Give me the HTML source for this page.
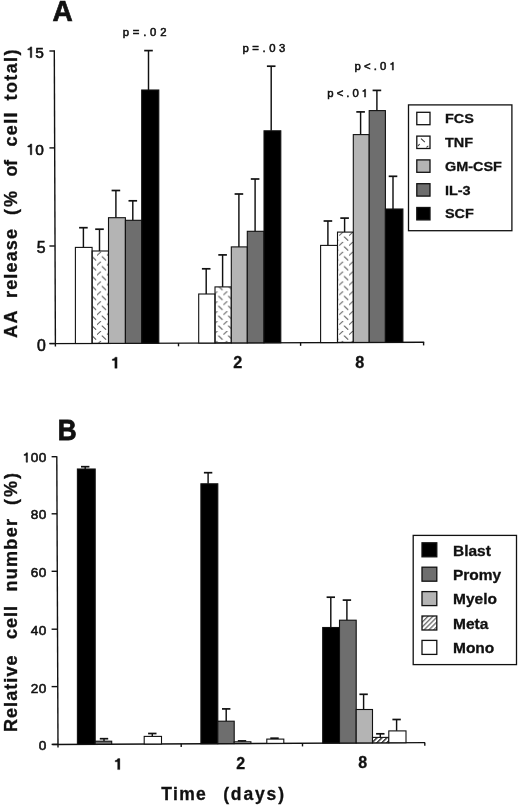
<!DOCTYPE html>
<html><head><meta charset="utf-8"><style>
html,body{margin:0;padding:0;background:#fff;}
body{width:520px;height:806px;overflow:hidden;}
svg{display:block;filter:grayscale(1);}
text{font-family:"Liberation Sans", sans-serif;fill:#111;}
</style></head><body>
<svg width="520" height="806" viewBox="0 0 520 806">
<defs>
<pattern id="tnf0" patternUnits="userSpaceOnUse" width="9.9" height="9.9" x="97.0" y="4.3">
<path d="M0.2,3.4 L3.7,0.2 M5.1,4.9 L8.7,8.3" stroke="#505050" stroke-width="1.0" fill="none" stroke-linecap="round"/>
</pattern>
<pattern id="tnf1" patternUnits="userSpaceOnUse" width="9.9" height="9.9" x="223.4" y="4.3">
<path d="M0.2,3.4 L3.7,0.2 M5.1,4.9 L8.7,8.3" stroke="#505050" stroke-width="1.0" fill="none" stroke-linecap="round"/>
</pattern>
<pattern id="tnf2" patternUnits="userSpaceOnUse" width="9.9" height="9.9" x="339.2" y="4.3">
<path d="M0.2,3.4 L3.7,0.2 M5.1,4.9 L8.7,8.3" stroke="#505050" stroke-width="1.0" fill="none" stroke-linecap="round"/>
</pattern>
<pattern id="meta" patternUnits="userSpaceOnUse" width="3.5" height="3.5" patternTransform="rotate(45)">
<rect x="0" y="0" width="3.5" height="3.5" fill="#fff"/><line x1="0.7" y1="0" x2="0.7" y2="3.5" stroke="#222" stroke-width="1.4"/>
</pattern>
<pattern id="metas" patternUnits="userSpaceOnUse" width="3.4" height="3.4" patternTransform="rotate(45)">
<rect x="0" y="0" width="3.4" height="3.4" fill="#fff"/><line x1="0.7" y1="0" x2="0.7" y2="3.4" stroke="#444" stroke-width="1.05"/>
</pattern>
</defs>
<line x1="54.30" y1="50.40" x2="55.40" y2="346.40" stroke="#111" stroke-width="1.4"/>
<line x1="49.40" y1="51.00" x2="54.80" y2="51.00" stroke="#111" stroke-width="1.4"/>
<line x1="49.40" y1="147.90" x2="54.80" y2="147.90" stroke="#111" stroke-width="1.4"/>
<line x1="49.40" y1="246.00" x2="54.80" y2="246.00" stroke="#111" stroke-width="1.4"/>
<line x1="49.40" y1="343.50" x2="54.80" y2="343.50" stroke="#111" stroke-width="1.4"/>
<line x1="49.60" y1="343.60" x2="424.20" y2="342.20" stroke="#111" stroke-width="1.4"/>
<line x1="178.50" y1="343.12" x2="178.50" y2="346.32" stroke="#111" stroke-width="1.4"/>
<line x1="300.60" y1="342.66" x2="300.60" y2="345.86" stroke="#111" stroke-width="1.4"/>
<line x1="423.60" y1="342.20" x2="423.60" y2="345.40" stroke="#111" stroke-width="1.4"/>
<line x1="83.40" y1="247.40" x2="83.40" y2="227.70" stroke="#111" stroke-width="1.45"/>
<line x1="79.10" y1="227.70" x2="87.70" y2="227.70" stroke="#111" stroke-width="1.7"/>
<line x1="99.50" y1="251.00" x2="99.50" y2="229.20" stroke="#111" stroke-width="1.45"/>
<line x1="95.20" y1="229.20" x2="103.80" y2="229.20" stroke="#111" stroke-width="1.7"/>
<line x1="115.90" y1="217.70" x2="115.90" y2="190.50" stroke="#111" stroke-width="1.45"/>
<line x1="111.60" y1="190.50" x2="120.20" y2="190.50" stroke="#111" stroke-width="1.7"/>
<line x1="132.80" y1="220.30" x2="132.80" y2="200.80" stroke="#111" stroke-width="1.45"/>
<line x1="128.50" y1="200.80" x2="137.10" y2="200.80" stroke="#111" stroke-width="1.7"/>
<line x1="148.50" y1="90.00" x2="148.50" y2="50.60" stroke="#111" stroke-width="1.45"/>
<line x1="144.20" y1="50.60" x2="152.80" y2="50.60" stroke="#111" stroke-width="1.7"/>
<line x1="206.20" y1="294.00" x2="206.20" y2="268.80" stroke="#111" stroke-width="1.45"/>
<line x1="201.90" y1="268.80" x2="210.50" y2="268.80" stroke="#111" stroke-width="1.7"/>
<line x1="222.60" y1="286.90" x2="222.60" y2="254.90" stroke="#111" stroke-width="1.45"/>
<line x1="218.30" y1="254.90" x2="226.90" y2="254.90" stroke="#111" stroke-width="1.7"/>
<line x1="238.90" y1="246.90" x2="238.90" y2="194.00" stroke="#111" stroke-width="1.45"/>
<line x1="234.60" y1="194.00" x2="243.20" y2="194.00" stroke="#111" stroke-width="1.7"/>
<line x1="255.10" y1="231.30" x2="255.10" y2="179.00" stroke="#111" stroke-width="1.45"/>
<line x1="250.80" y1="179.00" x2="259.40" y2="179.00" stroke="#111" stroke-width="1.7"/>
<line x1="271.20" y1="130.80" x2="271.20" y2="66.20" stroke="#111" stroke-width="1.45"/>
<line x1="266.90" y1="66.20" x2="275.50" y2="66.20" stroke="#111" stroke-width="1.7"/>
<line x1="327.90" y1="245.40" x2="327.90" y2="221.00" stroke="#111" stroke-width="1.45"/>
<line x1="323.60" y1="221.00" x2="332.20" y2="221.00" stroke="#111" stroke-width="1.7"/>
<line x1="344.60" y1="232.10" x2="344.60" y2="218.10" stroke="#111" stroke-width="1.45"/>
<line x1="340.30" y1="218.10" x2="348.90" y2="218.10" stroke="#111" stroke-width="1.7"/>
<line x1="360.60" y1="134.60" x2="360.60" y2="111.90" stroke="#111" stroke-width="1.45"/>
<line x1="356.30" y1="111.90" x2="364.90" y2="111.90" stroke="#111" stroke-width="1.7"/>
<line x1="376.90" y1="110.60" x2="376.90" y2="90.40" stroke="#111" stroke-width="1.45"/>
<line x1="372.60" y1="90.40" x2="381.20" y2="90.40" stroke="#111" stroke-width="1.7"/>
<line x1="393.00" y1="209.00" x2="393.00" y2="176.30" stroke="#111" stroke-width="1.45"/>
<line x1="388.70" y1="176.30" x2="397.30" y2="176.30" stroke="#111" stroke-width="1.7"/>
<rect x="75.40" y="247.40" width="16.70" height="96.07" fill="#ffffff" stroke="#111" stroke-width="1.1"/>
<rect x="92.10" y="251.00" width="16.40" height="92.41" fill="url(#tnf0)" stroke="#111" stroke-width="1.1"/>
<rect x="108.50" y="217.70" width="16.90" height="125.65" fill="#b4b4b4" stroke="#111" stroke-width="1.1"/>
<rect x="125.40" y="220.30" width="16.30" height="122.99" fill="#6e6e6e" stroke="#111" stroke-width="1.1"/>
<rect x="141.70" y="90.00" width="17.10" height="253.22" fill="#000000" stroke="#111" stroke-width="1.1"/>
<rect x="198.70" y="294.00" width="16.30" height="49.01" fill="#ffffff" stroke="#111" stroke-width="1.1"/>
<rect x="215.00" y="286.90" width="16.30" height="56.05" fill="url(#tnf1)" stroke="#111" stroke-width="1.1"/>
<rect x="231.30" y="246.90" width="16.00" height="95.99" fill="#b4b4b4" stroke="#111" stroke-width="1.1"/>
<rect x="247.30" y="231.30" width="16.70" height="111.53" fill="#6e6e6e" stroke="#111" stroke-width="1.1"/>
<rect x="264.00" y="130.80" width="16.80" height="211.97" fill="#000000" stroke="#111" stroke-width="1.1"/>
<rect x="320.60" y="245.40" width="16.90" height="97.15" fill="#ffffff" stroke="#111" stroke-width="1.1"/>
<rect x="337.50" y="232.10" width="15.80" height="110.39" fill="url(#tnf2)" stroke="#111" stroke-width="1.1"/>
<rect x="353.30" y="134.60" width="15.90" height="207.83" fill="#b4b4b4" stroke="#111" stroke-width="1.1"/>
<rect x="369.20" y="110.60" width="16.20" height="231.77" fill="#6e6e6e" stroke="#111" stroke-width="1.1"/>
<rect x="385.40" y="209.00" width="17.50" height="133.31" fill="#000000" stroke="#111" stroke-width="1.1"/>
<path d="M500,0 L500,1030 L170,1030 L170,1150 Q440,1160 520,1409 L680,1409 L680,0 Z" fill="#111" stroke="#111" stroke-width="79.28" transform="translate(26.56,57.60) scale(0.00757,-0.00757)"/>
<text x="35.18" y="57.60" font-size="15.5" font-weight="normal" stroke="#111" stroke-width="0.6">5</text>
<path d="M500,0 L500,1030 L170,1030 L170,1150 Q440,1160 520,1409 L680,1409 L680,0 Z" fill="#111" stroke="#111" stroke-width="79.28" transform="translate(26.56,154.70) scale(0.00757,-0.00757)"/>
<text x="35.18" y="154.70" font-size="15.5" font-weight="normal" stroke="#111" stroke-width="0.6">0</text>
<text x="36.81" y="252.90" font-size="15.8" font-weight="normal" stroke="#111" stroke-width="0.6">5</text>
<text x="36.91" y="350.70" font-size="15.8" font-weight="normal" stroke="#111" stroke-width="0.6">0</text>
<path d="M470,0 L470,990 L150,990 L150,1160 Q420,1170 500,1409 L760,1409 L760,0 Z" fill="#111" stroke="#111" stroke-width="37.93" transform="translate(111.10,368.30) scale(0.00791,-0.00791)"/>
<text x="233.30" y="368.20" font-size="16.2" font-weight="bold" stroke="#111" stroke-width="0.3">2</text>
<text x="355.20" y="367.80" font-size="16.2" font-weight="bold" stroke="#111" stroke-width="0.3">8</text>
<text x="122.70 132.78 143.18 150.12 160.21" y="35.60" font-size="11.3" font-weight="normal" stroke="#111" stroke-width="0.55">p=.02</text>
<text x="242.40 252.28 262.48 269.22 279.11" y="52.30" font-size="11.3" font-weight="normal" stroke="#111" stroke-width="0.55">p=.03</text>
<path d="M500,0 L500,1030 L170,1030 L170,1150 Q440,1160 520,1409 L680,1409 L680,0 Z" fill="#111" stroke="#111" stroke-width="99.68" transform="translate(361.81,97.10) scale(0.00552,-0.00552)"/>
<text x="327.30 336.63 346.28 352.47" y="97.10" font-size="11.3" font-weight="normal" stroke="#111" stroke-width="0.55">p&lt;.0</text>
<path d="M500,0 L500,1030 L170,1030 L170,1150 Q440,1160 520,1409 L680,1409 L680,0 Z" fill="#111" stroke="#111" stroke-width="99.68" transform="translate(389.61,70.10) scale(0.00552,-0.00552)"/>
<text x="354.50 363.98 373.78 380.12" y="70.10" font-size="11.3" font-weight="normal" stroke="#111" stroke-width="0.55">p&lt;.0</text>
<text x="52.60" y="21.00" font-size="29.5" font-weight="bold" text-anchor="start" letter-spacing="0" transform="translate(52.60,21.00) scale(0.95,1) translate(-52.60,-21.00)" stroke="#111" stroke-width="0.7">A</text>
<text x="0" y="0" font-size="18" font-weight="bold" stroke="#111" stroke-width="0.3" textLength="27.50" lengthAdjust="spacing" transform="translate(17.40,338.00) rotate(-90)">AA</text>
<text x="0" y="0" font-size="18" font-weight="bold" stroke="#111" stroke-width="0.3" textLength="69.00" lengthAdjust="spacing" transform="translate(17.40,298.00) rotate(-90)">release</text>
<text x="0" y="0" font-size="18" font-weight="bold" stroke="#111" stroke-width="0.3" textLength="24.00" lengthAdjust="spacing" transform="translate(17.40,215.00) rotate(-90)">(%</text>
<text x="0" y="0" font-size="18" font-weight="bold" stroke="#111" stroke-width="0.3" textLength="16.50" lengthAdjust="spacing" transform="translate(17.40,176.50) rotate(-90)">of</text>
<text x="0" y="0" font-size="18" font-weight="bold" stroke="#111" stroke-width="0.3" textLength="34.00" lengthAdjust="spacing" transform="translate(17.40,146.50) rotate(-90)">cell</text>
<text x="0" y="0" font-size="18" font-weight="bold" stroke="#111" stroke-width="0.3" textLength="51.00" lengthAdjust="spacing" transform="translate(17.40,100.50) rotate(-90)">total)</text>
<rect x="408.50" y="104.90" width="103.40" height="125.80" fill="#ffffff" stroke="#111" stroke-width="1.3"/>
<rect x="416.80" y="112.30" width="13.20" height="12.40" fill="#ffffff" stroke="#111" stroke-width="1.3"/>
<text x="445.00" y="123.30" font-size="13.5" font-weight="bold" text-anchor="start" letter-spacing="0" transform="translate(445.00,123.30) scale(1.07,1) translate(-445.00,-123.30)" stroke="#111" stroke-width="0.3">FCS</text>
<rect x="416.80" y="136.10" width="13.20" height="12.40" fill="#ffffff" stroke="#111" stroke-width="1.3"/>
<path d="M421.3,138.8 L424.6,141.8 M418.2,145.6 L419.4,144.4 M426.8,147.2 L428.0,146.2" stroke="#3a3a3a" stroke-width="1.05" fill="none" stroke-linecap="round"/>
<text x="445.00" y="147.10" font-size="13.5" font-weight="bold" text-anchor="start" letter-spacing="0" transform="translate(445.00,147.10) scale(1.07,1) translate(-445.00,-147.10)" stroke="#111" stroke-width="0.3">TNF</text>
<rect x="416.80" y="159.90" width="13.20" height="12.40" fill="#b4b4b4" stroke="#111" stroke-width="1.3"/>
<text x="445.00" y="170.90" font-size="13.5" font-weight="bold" text-anchor="start" letter-spacing="0" transform="translate(445.00,170.90) scale(1.07,1) translate(-445.00,-170.90)" stroke="#111" stroke-width="0.3">GM-CSF</text>
<rect x="416.80" y="183.70" width="13.20" height="12.40" fill="#6e6e6e" stroke="#111" stroke-width="1.3"/>
<text x="445.00" y="194.70" font-size="13.5" font-weight="bold" text-anchor="start" letter-spacing="0" transform="translate(445.00,194.70) scale(1.07,1) translate(-445.00,-194.70)" stroke="#111" stroke-width="0.3">IL-3</text>
<rect x="416.80" y="207.50" width="13.20" height="12.40" fill="#000000" stroke="#111" stroke-width="1.3"/>
<text x="445.00" y="218.50" font-size="13.5" font-weight="bold" text-anchor="start" letter-spacing="0" transform="translate(445.00,218.50) scale(1.07,1) translate(-445.00,-218.50)" stroke="#111" stroke-width="0.3">SCF</text>
<line x1="56.80" y1="456.20" x2="58.00" y2="747.40" stroke="#111" stroke-width="1.4"/>
<line x1="51.60" y1="456.70" x2="56.80" y2="456.70" stroke="#111" stroke-width="1.4"/>
<line x1="51.60" y1="513.80" x2="57.04" y2="513.80" stroke="#111" stroke-width="1.4"/>
<line x1="51.60" y1="571.30" x2="57.27" y2="571.30" stroke="#111" stroke-width="1.4"/>
<line x1="51.60" y1="629.20" x2="57.51" y2="629.20" stroke="#111" stroke-width="1.4"/>
<line x1="51.60" y1="686.60" x2="57.75" y2="686.60" stroke="#111" stroke-width="1.4"/>
<line x1="51.60" y1="744.40" x2="57.99" y2="744.40" stroke="#111" stroke-width="1.4"/>
<line x1="52.50" y1="744.50" x2="425.00" y2="742.60" stroke="#111" stroke-width="1.4"/>
<line x1="181.20" y1="743.84" x2="181.20" y2="747.04" stroke="#111" stroke-width="1.4"/>
<line x1="302.50" y1="743.22" x2="302.50" y2="746.42" stroke="#111" stroke-width="1.4"/>
<line x1="424.80" y1="742.60" x2="424.80" y2="745.80" stroke="#111" stroke-width="1.4"/>
<line x1="85.20" y1="469.00" x2="85.20" y2="466.70" stroke="#111" stroke-width="1.45"/>
<line x1="81.00" y1="466.70" x2="89.40" y2="466.70" stroke="#111" stroke-width="1.7"/>
<line x1="104.00" y1="741.20" x2="104.00" y2="738.70" stroke="#111" stroke-width="1.45"/>
<line x1="99.80" y1="738.70" x2="108.20" y2="738.70" stroke="#111" stroke-width="1.7"/>
<line x1="152.30" y1="736.40" x2="152.30" y2="733.50" stroke="#111" stroke-width="1.45"/>
<line x1="148.10" y1="733.50" x2="156.50" y2="733.50" stroke="#111" stroke-width="1.7"/>
<line x1="208.10" y1="483.80" x2="208.10" y2="472.70" stroke="#111" stroke-width="1.45"/>
<line x1="203.90" y1="472.70" x2="212.30" y2="472.70" stroke="#111" stroke-width="1.7"/>
<line x1="226.20" y1="721.20" x2="226.20" y2="708.90" stroke="#111" stroke-width="1.45"/>
<line x1="222.00" y1="708.90" x2="230.40" y2="708.90" stroke="#111" stroke-width="1.7"/>
<line x1="242.00" y1="741.80" x2="242.00" y2="740.90" stroke="#111" stroke-width="1.45"/>
<line x1="237.80" y1="740.90" x2="246.20" y2="740.90" stroke="#111" stroke-width="1.7"/>
<line x1="274.50" y1="739.10" x2="274.50" y2="738.20" stroke="#111" stroke-width="1.45"/>
<line x1="270.30" y1="738.20" x2="278.70" y2="738.20" stroke="#111" stroke-width="1.7"/>
<line x1="330.80" y1="627.50" x2="330.80" y2="597.20" stroke="#111" stroke-width="1.45"/>
<line x1="326.60" y1="597.20" x2="335.00" y2="597.20" stroke="#111" stroke-width="1.7"/>
<line x1="346.90" y1="620.20" x2="346.90" y2="600.10" stroke="#111" stroke-width="1.45"/>
<line x1="342.70" y1="600.10" x2="351.10" y2="600.10" stroke="#111" stroke-width="1.7"/>
<line x1="363.60" y1="709.50" x2="363.60" y2="694.30" stroke="#111" stroke-width="1.45"/>
<line x1="359.40" y1="694.30" x2="367.80" y2="694.30" stroke="#111" stroke-width="1.7"/>
<line x1="380.30" y1="737.40" x2="380.30" y2="733.80" stroke="#111" stroke-width="1.45"/>
<line x1="376.10" y1="733.80" x2="384.50" y2="733.80" stroke="#111" stroke-width="1.7"/>
<line x1="396.60" y1="730.90" x2="396.60" y2="719.50" stroke="#111" stroke-width="1.45"/>
<line x1="392.40" y1="719.50" x2="400.80" y2="719.50" stroke="#111" stroke-width="1.7"/>
<rect x="77.40" y="469.00" width="17.80" height="275.33" fill="#000000" stroke="#111" stroke-width="1.1"/>
<rect x="95.20" y="741.20" width="16.50" height="3.04" fill="#6e6e6e" stroke="#111" stroke-width="1.1"/>
<rect x="144.20" y="736.40" width="17.30" height="7.59" fill="#ffffff" stroke="#111" stroke-width="1.1"/>
<rect x="200.90" y="483.80" width="16.90" height="259.90" fill="#000000" stroke="#111" stroke-width="1.1"/>
<rect x="217.80" y="721.20" width="16.40" height="22.42" fill="#6e6e6e" stroke="#111" stroke-width="1.1"/>
<rect x="234.20" y="741.80" width="16.70" height="1.73" fill="#b4b4b4" stroke="#111" stroke-width="1.1"/>
<rect x="266.80" y="739.10" width="17.00" height="4.26" fill="#ffffff" stroke="#111" stroke-width="1.1"/>
<rect x="322.70" y="627.50" width="16.80" height="115.58" fill="#000000" stroke="#111" stroke-width="1.1"/>
<rect x="339.50" y="620.20" width="16.70" height="122.79" fill="#6e6e6e" stroke="#111" stroke-width="1.1"/>
<rect x="356.20" y="709.50" width="16.30" height="33.41" fill="#b4b4b4" stroke="#111" stroke-width="1.1"/>
<rect x="372.50" y="737.40" width="16.30" height="5.43" fill="url(#meta)" stroke="#111" stroke-width="1.1"/>
<rect x="388.80" y="730.90" width="17.20" height="11.84" fill="#ffffff" stroke="#111" stroke-width="1.1"/>
<path d="M500,0 L500,1030 L170,1030 L170,1150 Q440,1160 520,1409 L680,1409 L680,0 Z" fill="#111" stroke="#111" stroke-width="90.35" transform="translate(22.91,462.20) scale(0.00664,-0.00664)"/>
<text x="30.77 38.64" y="462.20" font-size="13.6" font-weight="normal" stroke="#111" stroke-width="0.6">00</text>
<text x="30.77 38.64" y="519.20" font-size="13.6" font-weight="normal" stroke="#111" stroke-width="0.6">80</text>
<text x="30.77 38.64" y="577.00" font-size="13.6" font-weight="normal" stroke="#111" stroke-width="0.6">60</text>
<text x="30.77 38.64" y="634.80" font-size="13.6" font-weight="normal" stroke="#111" stroke-width="0.6">40</text>
<text x="30.77 38.64" y="692.50" font-size="13.6" font-weight="normal" stroke="#111" stroke-width="0.6">20</text>
<text x="38.64" y="750.20" font-size="13.6" font-weight="normal" stroke="#111" stroke-width="0.6">0</text>
<path d="M470,0 L470,990 L150,990 L150,1160 Q420,1170 500,1409 L760,1409 L760,0 Z" fill="#111" stroke="#111" stroke-width="38.40" transform="translate(113.95,769.60) scale(0.00781,-0.00781)"/>
<text x="236.15" y="769.00" font-size="16" font-weight="bold" stroke="#111" stroke-width="0.3">2</text>
<text x="358.35" y="768.30" font-size="16" font-weight="bold" stroke="#111" stroke-width="0.3">8</text>
<text x="161.30" y="799.90" font-size="17.5" font-weight="bold" text-anchor="start" letter-spacing="1.3" stroke="#111" stroke-width="0.3">Time</text>
<text x="223.20" y="799.90" font-size="17.5" font-weight="bold" text-anchor="start" letter-spacing="1.85" stroke="#111" stroke-width="0.3">(days)</text>
<text x="57.80" y="440.50" font-size="29.2" font-weight="bold" text-anchor="start" letter-spacing="0" transform="translate(57.80,440.50) scale(0.895,1) translate(-57.80,-440.50)" stroke="#111" stroke-width="0.8">B</text>
<text x="0" y="0" font-size="18" font-weight="bold" stroke="#111" stroke-width="0.3" textLength="76.50" lengthAdjust="spacing" transform="translate(17.20,732.00) rotate(-90)">Relative</text>
<text x="0" y="0" font-size="18" font-weight="bold" stroke="#111" stroke-width="0.3" textLength="33.00" lengthAdjust="spacing" transform="translate(17.20,639.00) rotate(-90)">cell</text>
<text x="0" y="0" font-size="18" font-weight="bold" stroke="#111" stroke-width="0.3" textLength="72.50" lengthAdjust="spacing" transform="translate(17.20,591.50) rotate(-90)">number</text>
<text x="0" y="0" font-size="18" font-weight="bold" stroke="#111" stroke-width="0.3" textLength="32.00" lengthAdjust="spacing" transform="translate(17.20,505.00) rotate(-90)">(%)</text>
<rect x="413.20" y="535.40" width="103.30" height="129.20" fill="#ffffff" stroke="#111" stroke-width="1.3"/>
<rect x="422.00" y="542.80" width="14.80" height="14.00" fill="#000000" stroke="#111" stroke-width="1.3"/>
<text x="453.00" y="555.70" font-size="14.5" font-weight="bold" text-anchor="start" letter-spacing="0" transform="translate(453.00,555.70) scale(1.07,1) translate(-453.00,-555.70)" stroke="#111" stroke-width="0.3">Blast</text>
<rect x="422.00" y="567.20" width="14.80" height="14.00" fill="#6e6e6e" stroke="#111" stroke-width="1.3"/>
<text x="453.00" y="580.10" font-size="14.5" font-weight="bold" text-anchor="start" letter-spacing="0" transform="translate(453.00,580.10) scale(1.07,1) translate(-453.00,-580.10)" stroke="#111" stroke-width="0.3">Promy</text>
<rect x="422.00" y="591.60" width="14.80" height="14.00" fill="#b4b4b4" stroke="#111" stroke-width="1.3"/>
<text x="453.00" y="604.50" font-size="14.5" font-weight="bold" text-anchor="start" letter-spacing="0" transform="translate(453.00,604.50) scale(1.07,1) translate(-453.00,-604.50)" stroke="#111" stroke-width="0.3">Myelo</text>
<rect x="422.00" y="616.00" width="14.80" height="14.00" fill="url(#metas)" stroke="#111" stroke-width="1.3"/>
<text x="453.00" y="628.90" font-size="14.5" font-weight="bold" text-anchor="start" letter-spacing="0" transform="translate(453.00,628.90) scale(1.07,1) translate(-453.00,-628.90)" stroke="#111" stroke-width="0.3">Meta</text>
<rect x="422.00" y="640.40" width="14.80" height="14.00" fill="#ffffff" stroke="#111" stroke-width="1.3"/>
<text x="453.00" y="653.30" font-size="14.5" font-weight="bold" text-anchor="start" letter-spacing="0" transform="translate(453.00,653.30) scale(1.07,1) translate(-453.00,-653.30)" stroke="#111" stroke-width="0.3">Mono</text>
</svg>
</body></html>
